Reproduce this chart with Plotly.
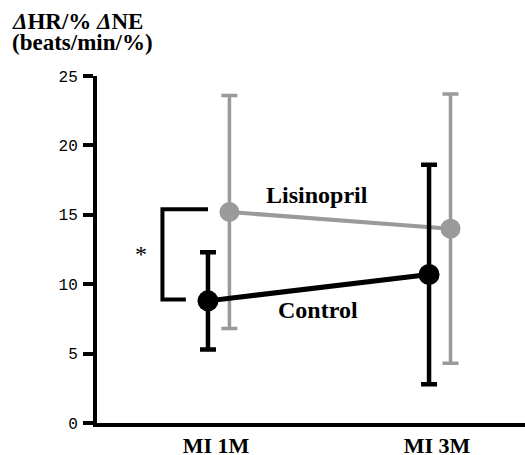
import plotly.graph_objects as go

# ---- data ----
groups = ["MI 1M", "MI 3M"]
control_mean = [8.8, 10.7]
control_err = [3.5, 7.9]
lisinopril_mean = [15.2, 14.0]
lisinopril_err = [8.4, 9.7]
series_labels = ["Control", "Lisinopril"]
y_ticks = [0, 5, 10, 15, 20, 25]
title_lines = ["<b><i>Δ</i>HR/% <i>Δ</i>NE</b>", "<b>(beats/min/%)</b>"]

# ---- style ----
GRAY = "#9a9a9a"
BLACK = "#000000"
OFF_C = -0.036
OFF_L = 0.061
xpos = [1, 2]
serif = "Liberation Serif"

fig = go.Figure()

fig.add_trace(go.Scatter(
    x=[p + OFF_L for p in xpos], y=lisinopril_mean,
    mode="lines+markers",
    line=dict(color=GRAY, width=4),
    marker=dict(size=20, color=GRAY, line=dict(width=0)),
    error_y=dict(type="data", array=lisinopril_err, color=GRAY, thickness=3.5, width=8),
    showlegend=False,
))
fig.add_trace(go.Scatter(
    x=[p + OFF_C for p in xpos], y=control_mean,
    mode="lines+markers",
    line=dict(color=BLACK, width=5),
    marker=dict(size=21, color=BLACK, line=dict(width=0)),
    error_y=dict(type="data", array=control_err, color=BLACK, thickness=4.5, width=8),
    showlegend=False,
))

# significance bracket between the two MI 1M means
bx = 1 - 0.242
fig.add_shape(type="path", xref="x", yref="y",
              path=f"M {1 + OFF_C} {lisinopril_mean[0] + 0.2} L {bx} {lisinopril_mean[0] + 0.2} "
                   f"L {bx} {control_mean[0] + 0.1} L {1 - 0.136} {control_mean[0] + 0.1}",
              line=dict(color=BLACK, width=4))
fig.add_annotation(x=bx - 0.097, y=(lisinopril_mean[0] + control_mean[0]) / 2 + 0.2,
                   text="*", showarrow=False, xref="x", yref="y",
                   font=dict(family=serif, size=24, color=BLACK))

fig.add_annotation(x=1.459, y=lisinopril_mean[0] + 1.2, xref="x", yref="y",
                   text="<b>" + series_labels[1] + "</b>", showarrow=False,
                   font=dict(family=serif, size=24, color=BLACK))
fig.add_annotation(x=1.46, y=control_mean[0] - 0.65, xref="x", yref="y",
                   text="<b>" + series_labels[0] + "</b>", showarrow=False,
                   font=dict(family=serif, size=24, color=BLACK))

for line, yp in zip(title_lines, [1.158, 1.097]):
    fig.add_annotation(x=-0.2035, y=yp, xref="paper", yref="paper",
                       xanchor="left", yanchor="middle", text=line, showarrow=False,
                       font=dict(family=serif, size=23, color=BLACK))

fig.update_layout(
    width=525, height=455,
    margin=dict(l=97, r=0, t=76, b=32),
    paper_bgcolor="white", plot_bgcolor="white",
    xaxis=dict(range=[0.462, 2.398], tickvals=xpos, ticktext=["<b>" + g + "</b>" for g in groups],
               showline=True, linecolor=BLACK, linewidth=4, ticks="", showgrid=False,
               zeroline=False, ticklabelstandoff=0, automargin=False,
               tickfont=dict(family=serif, size=22, color=BLACK)),
    yaxis=dict(range=[0, 25], tickvals=y_ticks, showline=True, linecolor=BLACK, linewidth=4,
               ticks="outside", ticklen=10, tickwidth=4, tickcolor=BLACK, showgrid=False,
               zeroline=False, ticklabelstandoff=2, automargin=False,
               tickfont=dict(family="Liberation Mono", size=16, color=BLACK)),
)

fig.write_html("out.html")
